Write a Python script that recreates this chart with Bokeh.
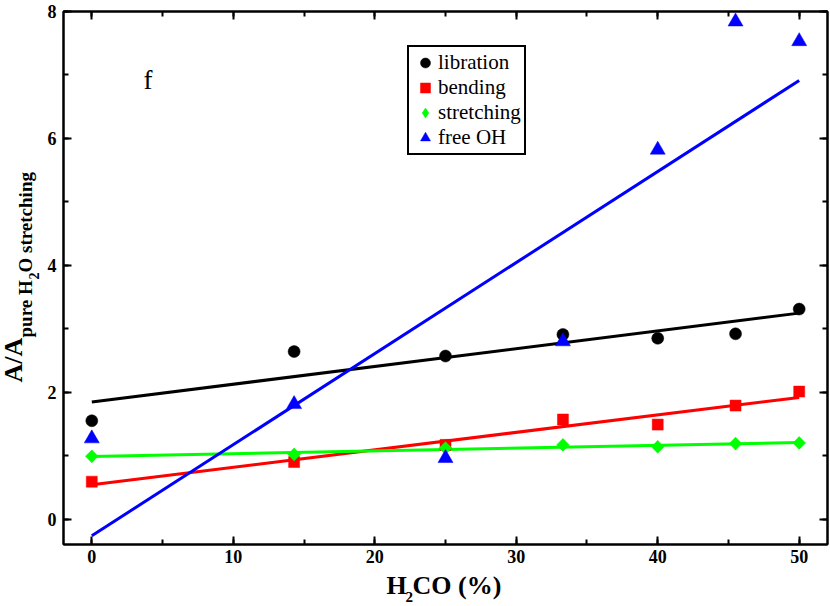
import numpy as np
from bokeh.plotting import figure
from bokeh.layouts import column, row
from bokeh.models import (Range1d, LinearAxis, SingleIntervalTicker, Legend,
                          LegendItem, Label)
from bokeh.embed import file_html
from bokeh.resources import INLINE

# ---- data ----
h2co = [0, 14.3, 25, 33.3, 40, 45.5, 50]
libration = [1.55, 2.64, 2.57, 2.91, 2.85, 2.92, 3.31]
bending = [0.59, 0.90, 1.17, 1.57, 1.49, 1.79, 2.01]
stretching = [0.99, 1.02, 1.12, 1.17, 1.14, 1.19, 1.20]
free_oh = [1.27, 1.81, 0.96, 2.80, 5.82, 7.84, 7.53]
series_names = ["libration", "bending", "stretching", "free OH"]

SERIF = "Liberation Serif"

# canvas geometry (px); Bokeh's page template has no body margin
TOTAL_W, TOTAL_H = 830, 606
LEFT_W = 44                 # strip holding the y-axis title
MAIN_W = TOTAL_W - LEFT_W
MAIN_H = 572
BOT_H = TOTAL_H - MAIN_H    # strip holding the x-axis title
FL, FR, FT, FB = 63, 827, 11, 544   # frame edges on the canvas
XR = (-2, 52)
YR = (-0.4, 8)
LIFT = 0.42   # measured drop of Bokeh's baseline-anchored labels, in em

p = figure(width=MAIN_W, height=MAIN_H, x_range=Range1d(*XR), y_range=Range1d(*YR),
           output_backend="svg", toolbar_location=None, title=None,
           min_border_left=FL - LEFT_W, min_border_right=TOTAL_W - FR,
           min_border_top=FT, min_border_bottom=MAIN_H - FB)
p.grid.visible = False
p.outline_line_color = "black"
p.outline_line_width = 2

xt = SingleIntervalTicker(interval=10, num_minor_ticks=2)
yt = SingleIntervalTicker(interval=2, num_minor_ticks=2)
p.xaxis.ticker = xt
p.yaxis.ticker = yt
p.add_layout(LinearAxis(ticker=xt), "above")
p.add_layout(LinearAxis(ticker=yt), "right")

for ax in p.axis:
    ax.axis_line_width = 2
    ax.major_tick_line_width = 2
    ax.minor_tick_line_width = 2
    ax.major_tick_in = 8
    ax.major_tick_out = 0
    ax.minor_tick_in = 5
    ax.minor_tick_out = 0
    ax.major_label_text_font = SERIF
    ax.major_label_text_font_style = "bold"
    ax.major_label_text_font_size = "18px"
    ax.major_label_text_color = "black"

p.xaxis[0].major_label_standoff = 7
p.yaxis[0].major_label_standoff = 7
for ax in (p.above[0], p.right[0]):
    ax.major_label_text_font_size = "0px"
    ax.major_label_text_color = None
    ax.major_label_standoff = 0

values = [libration, bending, stretching, free_oh]
colors = ["black", "#ff0000", "#00ff00", "#0000ff"]

xs_fit = [min(h2co), max(h2co)]
for vals, c in zip(values, colors):
    k, b = np.polyfit(h2co, vals, 1)
    p.line(xs_fit, [k * xx + b for xx in xs_fit], line_color=c, line_width=3)

r_lib = p.scatter(h2co, libration, marker="circle", size=12,
                  fill_color=colors[0], line_color=colors[0], line_width=0.5)
r_ben = p.scatter(h2co, bending, marker="square", size=11,
                  fill_color=colors[1], line_color=colors[1], line_width=0.5)
# narrow diamond (used by the legend) under a square turned 45 degrees
r_str = p.scatter(h2co, stretching, marker="diamond", size=12,
                  fill_color=colors[2], line_color=colors[2], line_width=0.5)
p.scatter(h2co, stretching, marker="square", size=9, angle=np.pi / 4,
          fill_color=colors[2], line_color=colors[2], line_width=0.5)
r_foh = p.scatter(h2co, free_oh, marker="triangle", size=15,
                  fill_color=colors[3], line_color=colors[3], line_width=0.5)

items = [LegendItem(label=n, renderers=[r])
         for n, r in zip(series_names, [r_lib, r_ben, r_str, r_foh])]

legend = Legend(items=items, location=(407 - FL, FB - 155),
                label_text_font=SERIF, label_text_font_size="21px",
                label_text_color="black",
                glyph_width=26, glyph_height=25, label_height=25,
                spacing=0, padding=3, margin=0, label_standoff=0,
                border_line_color="black", border_line_width=2, border_line_alpha=1.0,
                background_fill_color="white", background_fill_alpha=1.0)
p.add_layout(legend, "center")

# panel letter (inside the frame)
p.add_layout(Label(x=XR[0] + (143 - FL) * (XR[1] - XR[0]) / (FR - FL),
                   y=YR[1] - (91 - LIFT * 27 - FT) * (YR[1] - YR[0]) / (FB - FT),
                   text="f", text_font=SERIF, text_font_size="27px",
                   text_color="black", text_align="left", text_baseline="alphabetic"))


def strip(w, h, top=0, bottom=0):
    # data units = canvas pixels (y counted up from the canvas bottom)
    f = figure(width=w, height=h, x_range=Range1d(0, w), y_range=Range1d(bottom, h - top),
               output_backend="svg", toolbar_location=None, title=None,
               x_axis_location=None, y_axis_location=None,
               min_border=0, min_border_left=0, min_border_right=0,
               min_border_top=top, min_border_bottom=bottom)
    f.grid.visible = False
    f.outline_line_color = None
    return f


def put(f, x, y, text, size, angle=0.0):
    f.add_layout(Label(x=x, y=y, text=text, angle=angle,
                       text_font=SERIF, text_font_size=f"{size}px", text_font_style="bold",
                       text_color="black", text_align="left",
                       text_baseline="alphabetic"))


# y axis title strip (its frame is aligned with the main frame by the row)
ys = strip(LEFT_W, MAIN_H, top=FT, bottom=MAIN_H - FB)
V = np.pi / 2
for bx, by, txt, sz in [(24, 382, "A/A", 26), (33, 337, "pure H", 19),
                        (39, 279, "2", 14), (33, 272, "O stretching", 19)]:
    put(ys, bx - LIFT * sz, MAIN_H - by, txt, sz, V)

# x axis title strip
xs = strip(TOTAL_W, BOT_H)
for bx, by, txt, sz in [(386, 596, "H", 26), (405, 603, "2", 15), (412, 596, "CO (%)", 26)]:
    put(xs, bx, TOTAL_H - (by - LIFT * sz), txt, sz)

layout = column(row(ys, p, spacing=0), xs, spacing=0)
open("out.html", "w").write(file_html(layout, INLINE))
